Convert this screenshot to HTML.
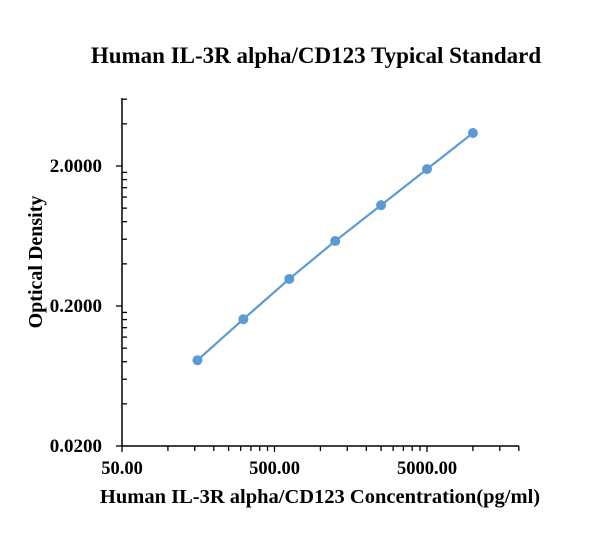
<!DOCTYPE html>
<html><head><meta charset="utf-8"><style>
body{margin:0;background:#fff;}
svg{display:block;font-family:"Liberation Serif",serif;}
</style></head><body>
<svg id="chart" width="610" height="557">
<text x="316" y="63" text-anchor="middle" font-size="23" font-weight="bold">Human IL-3R alpha/CD123 Typical Standard</text>
<text x="320" y="503" text-anchor="middle" font-size="20.5" font-weight="bold">Human IL-3R alpha/CD123 Concentration(pg/ml)</text>
<text transform="translate(42,262) rotate(-90)" text-anchor="middle" font-size="20" font-weight="bold">Optical Density</text>
<g id="axes"></g>
<g id="series"></g>
</svg>
<script>
const concentrations=[156.25,312.5,625,1250,2500,5000,10000];
const odValues=[0.082,0.161,0.312,0.582,1.05,1.90,3.44];
const xTickLabels=["50.00","500.00","5000.00"];
const xTickValues=[50,500,5000];
const yTickLabels=["0.0200","0.2000","2.0000"];
const yTickValues=[0.02,0.2,2];

const NS="http://www.w3.org/2000/svg";
const x0=122,xDec=152.5,y0=446,yDec=140,xEnd=519,yTop=98;
function xs(v){return x0+Math.log10(v/50)*xDec;}
function ys(v){return y0-Math.log10(v/0.02)*yDec;}
function mk(tag,attrs,parent){const e=document.createElementNS(NS,tag);for(const k in attrs)e.setAttribute(k,attrs[k]);parent.appendChild(e);return e;}
const ax=document.getElementById('axes');
const xl=mk('line',{x1:x0,y1:y0,x2:xEnd,y2:y0,stroke:'#000','stroke-width':1.5},ax);


const yl=mk('line',{x1:x0,y1:yTop,x2:x0,y2:y0,stroke:'#000','stroke-width':1.5},ax);


for(let d=50;d<50000;d*=10){for(let k=1;k<10;k++){const v=d*k;const px=xs(v);if(px>xEnd+1)break;
 const t=mk('line',{x1:px,y1:y0,x2:px,y2:y0+(k===1?6:5),stroke:'#000','stroke-width':1.3},ax);
 
 }}
for(let d=0.02;d<20;d*=10){for(let k=1;k<10;k++){const v=d*k;const py=ys(v);if(py<yTop-1)break;
 const t=mk('line',{x1:k===1?x0-6:x0,y1:py,x2:k===1?x0:x0+5,y2:py,stroke:'#000','stroke-width':1.3},ax);
 
 }}
xTickValues.forEach((v,i)=>{const t=mk('text',{x:xs(v),y:y0+28,'text-anchor':'middle','font-size':18.5,'font-weight':'bold'},ax);t.textContent=xTickLabels[i];
 
 });
yTickValues.forEach((v,i)=>{const t=mk('text',{x:x0-20,y:ys(v)+6,'text-anchor':'end','font-size':19,'font-weight':'bold'},ax);t.textContent=yTickLabels[i];
 
 });
const sg=document.getElementById('series');
const pts=concentrations.map((c,i)=>xs(c)+','+ys(odValues[i])).join(' ');
const pl=mk('polyline',{points:pts,fill:'none',stroke:'#5b9bd5','stroke-width':2.2},sg);


concentrations.forEach((c,i)=>{const p=mk('circle',{cx:xs(c),cy:ys(odValues[i]),r:5,fill:'#5b9bd5'},sg);
 
 });
</script>
</body></html>
